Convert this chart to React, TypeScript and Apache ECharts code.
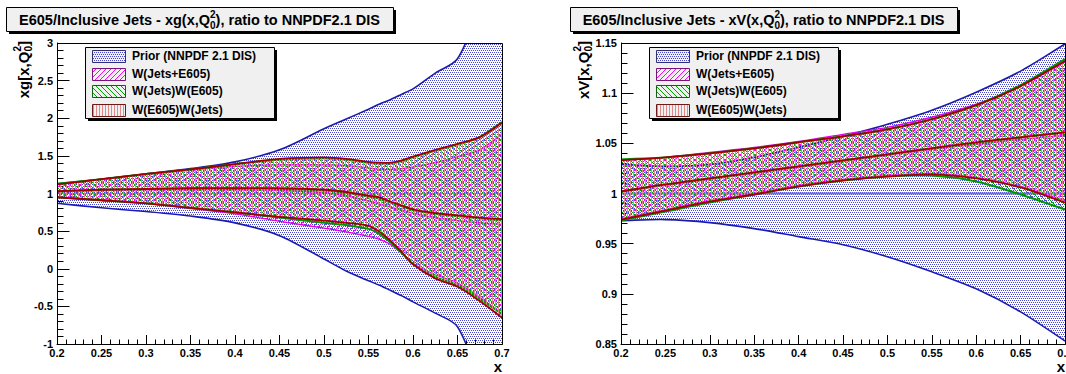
import React, { useEffect, useRef } from 'react';
import * as echarts from 'echarts';

// ---------- gluon panel: xg(x,Q0^2) ratio ----------
const xGluon = [0.2, 0.25, 0.3, 0.35, 0.4, 0.45, 0.5, 0.525, 0.55, 0.5625, 0.575, 0.5875, 0.6, 0.625, 0.65, 0.675, 0.7];

const gPriorUp = [1.13, 1.19, 1.26, 1.33, 1.42, 1.58, 1.86, 1.99, 2.12, 2.19, 2.25, 2.32, 2.39, 2.6, 2.79, 3.5, 4.5];
const gPriorMid = [1, 1, 1, 1, 1, 1, 1, 1, 1, 1, 1, 1, 1, 1, 1, 1, 1];
const gPriorLo = [0.87, 0.81, 0.76, 0.7, 0.61, 0.44, 0.13, -0.03, -0.16, -0.22, -0.29, -0.36, -0.44, -0.59, -0.77, -1.5, -2.4];

const gJetsE605Up = [1.12, 1.19, 1.25, 1.31, 1.36, 1.38, 1.38, 1.37, 1.34, 1.32, 1.32, 1.33, 1.35, 1.41, 1.49, 1.58, 1.79];
const gJetsE605Mid = [1.02, 1.04, 1.05, 1.05, 1.05, 1.04, 1.01, 0.97, 0.9, 0.86, 0.82, 0.78, 0.74, 0.68, 0.64, 0.61, 0.59];
const gJetsE605Lo = [0.95, 0.91, 0.87, 0.8, 0.73, 0.63, 0.54, 0.49, 0.43, 0.39, 0.32, 0.2, 0.07, -0.08, -0.19, -0.38, -0.61];

const gJetsThenE605Up = [1.13, 1.19, 1.26, 1.32, 1.39, 1.45, 1.47, 1.45, 1.41, 1.4, 1.4, 1.43, 1.48, 1.57, 1.65, 1.75, 1.95];
const gJetsThenE605Mid = [1.03, 1.05, 1.06, 1.07, 1.07, 1.06, 1.04, 1.01, 0.96, 0.93, 0.88, 0.83, 0.78, 0.73, 0.7, 0.67, 0.64];
const gJetsThenE605Lo = [0.95, 0.91, 0.87, 0.81, 0.75, 0.68, 0.61, 0.58, 0.53, 0.46, 0.35, 0.21, 0.06, -0.11, -0.22, -0.4, -0.6];

const gE605ThenJetsUp = [1.12, 1.19, 1.26, 1.32, 1.39, 1.46, 1.48, 1.46, 1.42, 1.41, 1.41, 1.44, 1.49, 1.58, 1.66, 1.75, 1.94];
const gE605ThenJetsMid = [1.03, 1.05, 1.06, 1.07, 1.07, 1.07, 1.05, 1.02, 0.97, 0.95, 0.89, 0.84, 0.79, 0.74, 0.71, 0.68, 0.66];
const gE605ThenJetsLo = [0.95, 0.91, 0.87, 0.81, 0.75, 0.69, 0.64, 0.61, 0.57, 0.49, 0.37, 0.22, 0.06, -0.13, -0.24, -0.43, -0.65];

// ---------- valence panel: xV(x,Q0^2) ratio ----------
const xValence = [0.2, 0.25, 0.3, 0.35, 0.4, 0.45, 0.5, 0.55, 0.6, 0.65, 0.7];

const vPriorUp = [1.029, 1.027, 1.029, 1.036, 1.046, 1.057, 1.069, 1.083, 1.101, 1.122, 1.149];
const vPriorMid = [1, 1, 1, 1, 1, 1, 1, 1, 1, 1, 1];
const vPriorLo = [0.973, 0.974, 0.971, 0.965, 0.957, 0.949, 0.937, 0.922, 0.905, 0.882, 0.853];

const vJetsE605Up = [1.033, 1.036, 1.041, 1.046, 1.052, 1.059, 1.066, 1.076, 1.089, 1.107, 1.131];
const vJetsE605Mid = [1.002, 1.008, 1.014, 1.02, 1.026, 1.032, 1.038, 1.044, 1.049, 1.054, 1.058];
const vJetsE605Lo = [0.975, 0.984, 0.993, 1.0, 1.008, 1.014, 1.018, 1.02, 1.016, 1.007, 0.993];

const vJetsThenE605Up = [1.034, 1.036, 1.04, 1.045, 1.051, 1.057, 1.064, 1.074, 1.088, 1.108, 1.134];
const vJetsThenE605Mid = [1.002, 1.009, 1.015, 1.021, 1.027, 1.033, 1.039, 1.045, 1.05, 1.056, 1.061];
const vJetsThenE605Lo = [0.973, 0.982, 0.991, 0.999, 1.007, 1.013, 1.017, 1.018, 1.012, 0.999, 0.984];

const vE605ThenJetsUp = [1.033, 1.036, 1.04, 1.045, 1.051, 1.057, 1.064, 1.074, 1.088, 1.107, 1.132];
const vE605ThenJetsMid = [1.002, 1.009, 1.015, 1.021, 1.027, 1.033, 1.039, 1.045, 1.051, 1.056, 1.061];
const vE605ThenJetsLo = [0.974, 0.983, 0.992, 0.999, 1.007, 1.013, 1.017, 1.019, 1.015, 1.006, 0.991];

// ---------- texts and axis ranges ----------
const legendLabels = ['Prior (NNPDF 2.1 DIS)', 'W(Jets+E605)', 'W(Jets)W(E605)', 'W(E605)W(Jets)'];
const xRange = [0.2, 0.7, 0.05];
const yRangeGluon = [-1, 3, 0.5];
const yRangeValence = [0.85, 1.15, 0.05];

const FONT = '"Liberation Sans", Arial, Helvetica, sans-serif';

let measureCtx: CanvasRenderingContext2D | null = null;
function textWidth(s: string, size: number) {
  if (!measureCtx) measureCtx = document.createElement('canvas').getContext('2d');
  measureCtx!.font = `bold ${size}px ${FONT}`;
  return measureCtx!.measureText(s).width;
}

// Fill patterns: dotted, forward hatch, backward hatch, vertical hatch
function makePattern(kind: string, color: string) {
  const c = document.createElement('canvas');
  let w = 5, h = 5;
  if (kind === 'dots') { w = 4; h = 4; }
  if (kind === 'vert') { w = 3; h = 1; }
  c.width = w; c.height = h;
  const g = c.getContext('2d')!;
  g.fillStyle = color;
  if (kind === 'dots') {
    g.fillRect(0, 0, 1, 1); g.fillRect(2, 0, 1, 1); g.fillRect(1, 2, 1, 1); g.fillRect(3, 2, 1, 1);
  } else if (kind === 'fwd') {
    for (let i = 0; i < 5; i++) g.fillRect(i, 4 - i, 1, 1);
  } else if (kind === 'back') {
    for (let i = 0; i < 5; i++) g.fillRect(i, i, 1, 1);
  } else {
    g.fillRect(0, 0, 1, 1);
  }
  return { image: c.toDataURL(), repeat: 'repeat', imageWidth: w, imageHeight: h };
}

const SMOOTH = 0.3;

function bandSeries(panel: number, xs: number[], lo: number[], mid: number[], up: number[],
  fill: any, edgeColor: string, edgeWidth: number, midColor: string, midWidth: number) {
  return {
    type: 'custom',
    xAxisIndex: panel,
    yAxisIndex: panel,
    clip: true,
    silent: true,
    animation: false,
    data: xs.map((x, i) => [x, lo[i], mid[i], up[i]]),
    renderItem: (params: any, api: any) => {
      if (params.dataIndex !== 0) return null;
      const pts = (arr: number[]) => xs.map((x, i) => api.coord([x, arr[i]]));
      const dup = (p: number[][]) => [p[0], ...p, p[p.length - 1]];
      const U = dup(pts(up));
      const L = dup(pts(lo));
      const M = dup(pts(mid));
      const poly = [...U, ...L.slice().reverse()];
      const line = (p: number[][], color: string, width: number) => ({
        type: 'polyline',
        shape: { points: p, smooth: SMOOTH },
        style: { stroke: color, lineWidth: width, fill: 'none' },
      });
      return {
        type: 'group',
        children: [
          { type: 'polygon', shape: { points: poly, smooth: SMOOTH }, style: { fill, stroke: 'none' } },
          line(M, midColor, midWidth),
          line(U, edgeColor, edgeWidth),
          line(L, edgeColor, edgeWidth),
        ],
      };
    },
  };
}

const panels = [
  { left: 57, top: 43, width: 445, height: 301, y: yRangeGluon, name: 'xg', fn: 'xg' },
  { left: 621, top: 43, width: 444, height: 301, y: yRangeValence, name: 'xV', fn: 'xV' },
];

function fmt(v: number) {
  return String(Number(v.toFixed(3)));
}

function buildOption() {
  const pPrior = makePattern('dots', '#4444d6');
  const pMag = makePattern('fwd', '#ff00ff');
  const pGreen = makePattern('back', '#00a000');
  const pRed = makePattern('vert', '#e08a8a');
  const swatchFills = [pPrior, pMag, pGreen, pRed];
  const swatchBorders = ['#30306a', '#7a107a', '#106010', '#701818'];

  const grids = panels.map((p) => ({
    left: p.left, top: p.top, width: p.width, height: p.height, show: false,
    containLabel: false, outerBoundsMode: 'none',
  }));

  const xAxes = panels.map((p, i) => ({
    type: 'value', gridIndex: i, min: xRange[0], max: xRange[1], interval: xRange[2],
    axisLine: { show: true, onZero: false, lineStyle: { color: '#000', width: 1 } },
    axisTick: { show: true, inside: true, length: 9, lineStyle: { color: '#000', width: 1 } },
    minorTick: { show: true, splitNumber: 5, length: 4.5, lineStyle: { color: '#000', width: 1 } },
    splitLine: { show: false },
    axisLabel: {
      show: true, margin: 3, color: '#000', fontFamily: FONT, fontWeight: 'bold', fontSize: 11,
      showMinLabel: true, showMaxLabel: true, formatter: (v: number) => fmt(v),
    },
  }));

  const yAxes = panels.map((p, i) => ({
    type: 'value', gridIndex: i, min: p.y[0], max: p.y[1], interval: p.y[2],
    axisLine: { show: true, onZero: false, lineStyle: { color: '#000', width: 1 } },
    axisTick: { show: true, inside: true, length: 12.5, lineStyle: { color: '#000', width: 1 } },
    minorTick: { show: true, splitNumber: 5, length: 6.5, lineStyle: { color: '#000', width: 1 } },
    splitLine: { show: false },
    axisLabel: {
      show: true, margin: 4, color: '#000', fontFamily: FONT, fontWeight: 'bold', fontSize: 11,
      showMinLabel: true, showMaxLabel: true, formatter: (v: number) => fmt(v),
    },
  }));

  const priorEdge = '#1c1caa';
  const series = [
    bandSeries(0, xGluon, gPriorLo, gPriorMid, gPriorUp, pPrior, priorEdge, 1.6, '#7070d0', 1.2),
    bandSeries(0, xGluon, gJetsE605Lo, gJetsE605Mid, gJetsE605Up, pMag, '#e000e0', 1.3, '#e000e0', 1.3),
    bandSeries(0, xGluon, gJetsThenE605Lo, gJetsThenE605Mid, gJetsThenE605Up, pGreen, '#009600', 2, '#009600', 2),
    bandSeries(0, xGluon, gE605ThenJetsLo, gE605ThenJetsMid, gE605ThenJetsUp, pRed, '#a00000', 1.8, '#a00000', 1.8),
    bandSeries(1, xValence, vPriorLo, vPriorMid, vPriorUp, pPrior, priorEdge, 1.6, '#7070d0', 2),
    bandSeries(1, xValence, vJetsE605Lo, vJetsE605Mid, vJetsE605Up, pMag, '#e000e0', 1.3, '#e000e0', 1.3),
    bandSeries(1, xValence, vJetsThenE605Lo, vJetsThenE605Mid, vJetsThenE605Up, pGreen, '#009600', 2, '#009600', 2),
    bandSeries(1, xValence, vE605ThenJetsLo, vE605ThenJetsMid, vE605ThenJetsUp, pRed, '#a00000', 1.8, '#a00000', 1.8),
  ];

  const graphic: any[] = [];
  const txt = (x: number, y: number, text: string, size: number, align = 'left', extra: any = {}) => ({
    type: 'text', x, y, z: 110,
    style: { text, fill: '#000', fontFamily: FONT, fontWeight: 'bold', fontSize: size, align, verticalAlign: 'middle', ...extra },
  });

  panels.forEach((p, i) => {
    // frame
    graphic.push({
      type: 'rect', z: 100, silent: true,
      shape: { x: p.left + 0.5, y: p.top + 0.5, width: p.width, height: p.height },
      style: { fill: 'none', stroke: '#000', lineWidth: 1 },
    });

    // title box with shadow
    const bx = i === 0 ? 6 : 570;
    const bw = 387, by = 7, bh = 24;
    graphic.push({ type: 'rect', z: 100, shape: { x: bx + 3, y: by + 3, width: bw, height: bh }, style: { fill: '#000' } });
    graphic.push({ type: 'rect', z: 101, shape: { x: bx + 0.5, y: by + 0.5, width: bw, height: bh }, style: { fill: '#f0f0f0', stroke: '#000', lineWidth: 1 } });
    const tSize = 14.5, sSize = 10;
    const t1 = `E605/Inclusive Jets - ${p.fn}(x,Q`;
    const t2 = '), ratio to NNPDF2.1 DIS';
    const w1 = textWidth(t1, tSize), ws = textWidth('2', sSize), w2 = textWidth(t2, tSize);
    const tx = bx + bw / 2 - (w1 + ws + w2) / 2;
    const ty = 20;
    graphic.push(txt(tx, ty, t1, tSize));
    graphic.push(txt(tx + w1, ty - 5.5, '2', sSize));
    graphic.push(txt(tx + w1, ty + 5, '0', sSize));
    graphic.push(txt(tx + w1 + ws, ty, t2, tSize));

    // y-axis title, rotated
    const ySize = 15;
    const y1 = `${p.name}[x,Q`;
    const yw1 = textWidth(y1, ySize), yws = textWidth('2', sSize), yw2 = textWidth(']', ySize);
    const total = yw1 + yws + yw2;
    graphic.push({
      type: 'group', x: i === 0 ? 23 : 583, y: 41, rotation: Math.PI / 2, z: 110,
      children: [
        txt(-total, 0, y1, ySize),
        txt(-total + yw1, -5.5, '2', sSize),
        txt(-total + yw1, 5, '0', sSize),
        txt(-total + yw1 + yws, 0, ']', ySize),
      ],
    });

    // x-axis title
    graphic.push(txt(p.left + p.width, 366, 'x', 15, 'right'));

    // legend
    const lx = i === 0 ? 85 : 649, ly = 47, lw = 189, lh = 71;
    graphic.push({ type: 'rect', z: 102, shape: { x: lx + 3, y: ly + 3, width: lw, height: lh }, style: { fill: '#000' } });
    graphic.push({ type: 'rect', z: 103, shape: { x: lx + 0.5, y: ly + 0.5, width: lw, height: lh }, style: { fill: '#f0f0f0', stroke: '#000', lineWidth: 1 } });
    const rows = [9, 26.5, 44, 62.5];
    legendLabels.forEach((label, k) => {
      const cy = ly + rows[k];
      graphic.push({
        type: 'rect', z: 104,
        shape: { x: lx + 7.5, y: Math.round(cy - 6) + 0.5, width: 33, height: 12 },
        style: { fill: swatchFills[k], stroke: swatchBorders[k], lineWidth: 1 },
      });
      graphic.push(txt(lx + 47, cy, label, 12));
    });
  });

  return {
    animation: false,
    backgroundColor: '#fff',
    grid: grids,
    xAxis: xAxes,
    yAxis: yAxes,
    series,
    graphic,
  };
}

export default function App() {
  const ref = useRef<HTMLDivElement>(null);
  useEffect(() => {
    const el = ref.current!;
    const chart = echarts.init(el, undefined, { renderer: 'svg' });
    chart.setOption(buildOption() as any);
    return () => chart.dispose();
  }, []);
  return (
    <div
      ref={ref}
      style={{ position: 'fixed', left: 0, top: 0, width: 1066, height: 374, background: '#fff' }}
    />
  );
}
